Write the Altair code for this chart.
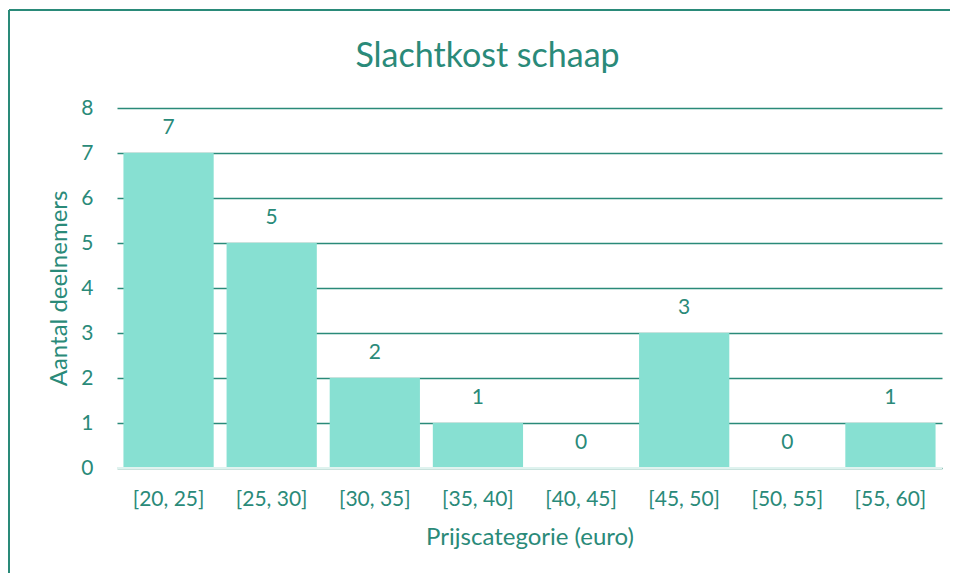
import altair as alt
import pandas as pd

categories = ["[20, 25]", "[25, 30]", "[30, 35]", "[35, 40]", "[40, 45]", "[45, 50]", "[50, 55]", "[55, 60]"]
counts = [7, 5, 2, 1, 0, 3, 0, 1]

df = pd.DataFrame({"cat": categories, "n": counts})

TEAL = "#2a8a79"
BAR = "#87e0d2"
FONT = "Lato"

base = alt.Chart(df)

x_enc = alt.X("cat:N", sort=categories, title="Prijscategorie (euro)",
              scale=alt.Scale(paddingInner=0.125, paddingOuter=0.0625),
              axis=alt.Axis(labelAngle=0, ticks=False, domain=False, labelPadding=20,
                            titlePadding=16, labelFontSize=21, titleFontSize=24))
y_enc = alt.Y("n:Q", title="Aantal deelnemers",
              scale=alt.Scale(domain=[0, 8]),
              axis=alt.Axis(values=[0, 1, 2, 3, 4, 5, 6, 7, 8], ticks=False, domain=False,
                            labelPadding=24, titlePadding=9, labelFontSize=21, titleFontSize=24,
                            grid=True, gridColor=TEAL, gridWidth=1.5))

bars = base.mark_bar(color=BAR).encode(x=x_enc, y=y_enc)

labels = base.mark_text(font=FONT, fontSize=21, color=TEAL, baseline="middle", dy=-25).encode(
    x=alt.X("cat:N", sort=categories), y="n:Q", text="n:Q")

zero = alt.Chart(pd.DataFrame({"z": [0]})).mark_rule(color="#dff3ef", strokeWidth=2).encode(y="z:Q")

frame_df = pd.DataFrame({"a": [0]})
border_top = alt.Chart(frame_df).mark_rule(color=TEAL, strokeWidth=2).encode(
    x=alt.value(-108), x2=alt.value(833), y=alt.value(-98))
border_left = alt.Chart(frame_df).mark_rule(color=TEAL, strokeWidth=2).encode(
    x=alt.value(-108), y=alt.value(-98), y2=alt.value(465))

chart = alt.layer(border_top, border_left, bars, zero, labels).properties(
    width=825, height=360,
    autosize=alt.AutoSizeParams(type="none"),
    padding={"left": 109, "top": 100, "right": 8, "bottom": 105},
    title=alt.TitleParams("Slachtkost schaap", fontSize=34, font=FONT, color=TEAL,
                          fontWeight="normal", baseline="alphabetic", offset=-92, dx=-42,
                          frame="group"),
).configure_view(stroke=None).configure_axis(
    labelColor=TEAL, titleColor=TEAL, labelFont=FONT, titleFont=FONT, titleFontWeight="normal"
)

chart.save("out.html", embed_options={"renderer": "svg", "actions": False})
